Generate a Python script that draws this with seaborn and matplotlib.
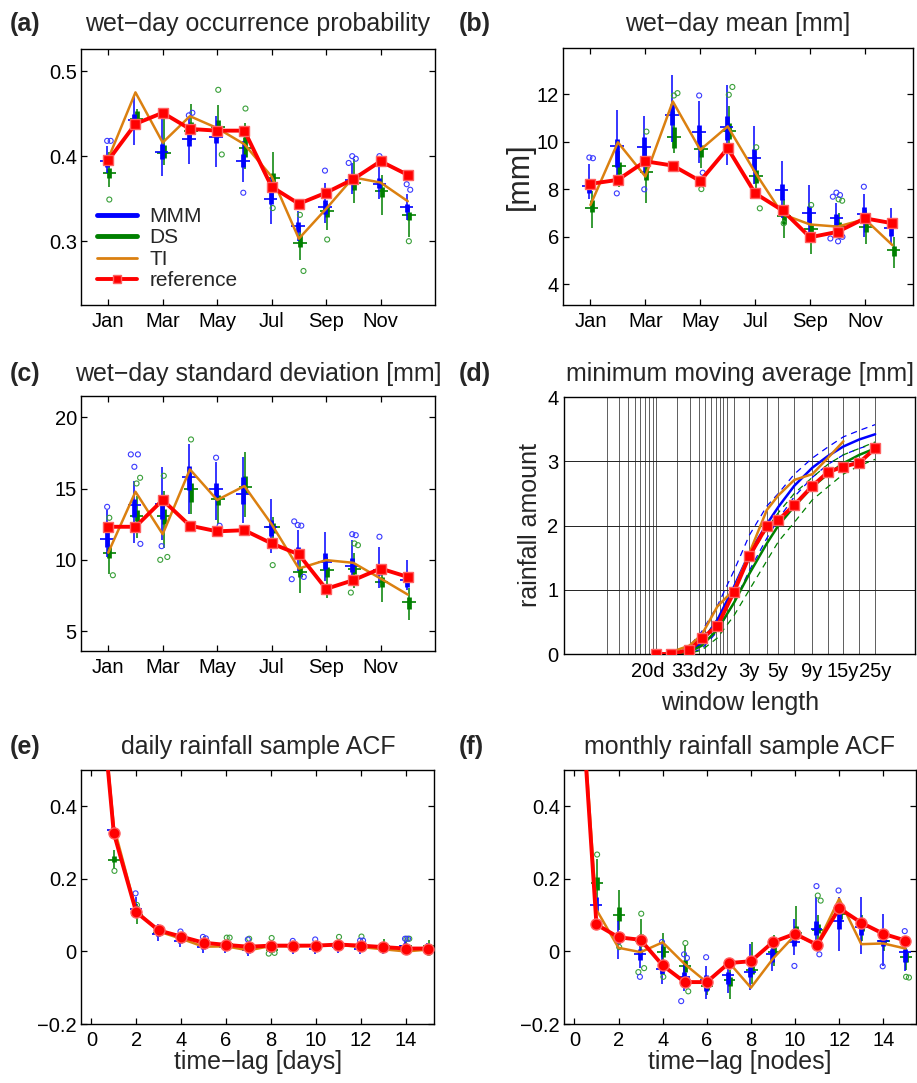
import numpy as np
import pandas as pd
import seaborn as sns
import matplotlib
matplotlib.use("Agg")
import matplotlib.pyplot as plt
from matplotlib.lines import Line2D

# ---------------- data ----------------
months = list(range(1, 13))
month_ticks = [1, 3, 5, 7, 9, 11]
month_labels = ["Jan", "Mar", "May", "Jul", "Sep", "Nov"]

# (a) wet-day occurrence probability
a_ref = [0.395, 0.438, 0.451, 0.432, 0.430, 0.430, 0.364, 0.344, 0.357, 0.373, 0.394, 0.378]
a_ti = [0.397, 0.475, 0.416, 0.447, 0.433, 0.414, 0.376, 0.303, 0.338, 0.375, 0.369, 0.347]
a_mmm_med = [0.394, 0.442, 0.405, 0.420, 0.422, 0.394, 0.350, 0.318, 0.340, 0.372, 0.367, 0.340]
a_mmm_q1 = [0.387, 0.434, 0.397, 0.412, 0.415, 0.387, 0.344, 0.311, 0.332, 0.368, 0.362, 0.334]
a_mmm_q3 = [0.400, 0.450, 0.414, 0.426, 0.430, 0.402, 0.360, 0.323, 0.348, 0.376, 0.374, 0.344]
a_mmm_lo = [0.380, 0.413, 0.377, 0.391, 0.387, 0.370, 0.320, 0.300, 0.322, 0.355, 0.350, 0.325]
a_mmm_hi = [0.412, 0.470, 0.448, 0.445, 0.447, 0.418, 0.375, 0.335, 0.369, 0.392, 0.392, 0.356]
a_mmm_out = [(1, 0.418), (1, 0.418), (4, 0.448), (4, 0.451), (6, 0.357), (9, 0.383),
             (10, 0.400), (10, 0.397), (10, 0.392), (11, 0.400), (12, 0.367), (12, 0.3605)]
a_ds_med = [0.380, 0.444, 0.404, 0.430, 0.434, 0.410, 0.374, 0.298, 0.336, 0.368, 0.359, 0.331]
a_ds_q1 = [0.374, 0.440, 0.398, 0.428, 0.430, 0.399, 0.366, 0.293, 0.329, 0.360, 0.352, 0.325]
a_ds_q3 = [0.386, 0.453, 0.413, 0.440, 0.443, 0.422, 0.380, 0.307, 0.340, 0.371, 0.364, 0.334]
a_ds_lo = [0.364, 0.435, 0.390, 0.418, 0.420, 0.385, 0.350, 0.278, 0.313, 0.345, 0.331, 0.305]
a_ds_hi = [0.405, 0.455, 0.447, 0.461, 0.460, 0.439, 0.405, 0.318, 0.345, 0.397, 0.378, 0.340]
a_ds_out = [(1, 0.349), (5, 0.478), (5, 0.402), (6, 0.456), (7, 0.339), (8, 0.331), (8, 0.265),
            (9, 0.302), (12, 0.300)]

# (b) wet-day mean [mm]
b_ref = [8.22, 8.39, 9.17, 8.99, 8.34, 9.72, 7.82, 7.10, 5.97, 6.20, 6.77, 6.56]
b_ti = [7.33, 9.97, 8.53, 11.69, 9.65, 10.64, 8.70, 6.94, 6.51, 6.42, 6.73, 5.64]
b_mmm_med = [8.13, 9.83, 9.79, 11.10, 10.40, 10.60, 9.30, 7.95, 6.98, 6.77, 6.94, 6.35]
b_mmm_q1 = [7.82, 8.95, 9.09, 10.70, 9.79, 10.07, 8.81, 7.54, 6.56, 6.39, 6.56, 6.04]
b_mmm_q3 = [8.39, 10.10, 10.20, 11.60, 10.68, 11.06, 9.69, 8.22, 7.30, 6.94, 7.26, 6.56]
b_mmm_lo = [7.60, 8.50, 8.60, 10.00, 9.10, 9.00, 8.20, 6.80, 6.00, 6.10, 6.00, 5.70]
b_mmm_hi = [9.06, 11.34, 11.09, 12.80, 11.69, 12.40, 10.64, 9.19, 8.17, 7.40, 7.80, 7.22]
b_mmm_out = [(1, 9.33), (1, 9.30), (2, 7.82), (3, 7.99), (5, 11.94), (5, 8.69),
             (10, 7.85), (10, 7.75), (10, 7.68), (10, 5.99), (10, 5.92), (10, 5.80), (11, 8.10)]
b_ds_med = [7.22, 8.98, 8.74, 10.20, 9.69, 10.45, 8.55, 6.87, 6.32, 6.46, 6.39, 5.43]
b_ds_q1 = [7.05, 8.64, 8.39, 9.72, 9.33, 10.10, 8.24, 6.53, 6.14, 6.28, 6.18, 5.18]
b_ds_q3 = [7.54, 9.16, 9.00, 10.60, 9.86, 10.80, 8.80, 7.12, 6.49, 6.63, 6.63, 5.60]
b_ds_lo = [6.37, 8.10, 7.43, 9.50, 8.90, 9.60, 7.60, 5.95, 5.25, 5.90, 5.68, 4.66]
b_ds_hi = [7.90, 9.60, 9.80, 11.30, 10.30, 11.50, 9.40, 7.60, 7.00, 7.00, 7.10, 6.00]
b_ds_out = [(3, 10.42), (4, 11.94), (4, 12.04), (5, 8.00), (6, 11.97), (6, 12.30), (7, 9.76),
            (7, 7.19), (8, 6.56), (9, 7.33), (10, 7.57), (10, 7.51)]

# (c) wet-day standard deviation [mm]
c_ref = [12.32, 12.32, 14.20, 12.40, 12.00, 12.08, 11.15, 10.38, 7.96, 8.57, 9.39, 8.80]
c_ti = [10.50, 14.78, 11.80, 16.35, 14.20, 15.18, 12.50, 9.39, 9.98, 9.79, 8.69, 7.56]
c_mmm_med = [11.43, 13.82, 13.90, 15.78, 14.94, 14.60, 12.32, 10.52, 9.86, 9.58, 9.27, 8.57]
c_mmm_q1 = [10.90, 13.00, 12.90, 14.90, 14.43, 13.90, 11.66, 10.10, 9.39, 9.16, 8.90, 8.10]
c_mmm_q3 = [11.97, 14.30, 14.43, 16.58, 15.36, 15.83, 12.80, 10.90, 10.50, 10.10, 9.70, 8.80]
c_mmm_lo = [10.20, 11.15, 11.40, 13.20, 12.80, 12.60, 10.50, 9.20, 8.50, 8.40, 8.00, 7.90]
c_mmm_hi = [13.50, 15.50, 16.53, 18.10, 16.90, 17.20, 14.30, 12.08, 11.97, 11.38, 10.90, 9.98]
c_mmm_out = [(1, 13.72), (2, 16.53), (2, 17.40), (2, 17.40), (2, 11.12), (3, 10.96), (5, 17.17),
             (5, 12.39), (8, 12.44), (8, 12.40), (8, 12.70), (8, 8.80), (8, 8.64), (10, 11.80),
             (10, 11.73), (11, 11.62)]
c_ds_med = [10.45, 13.10, 13.07, 14.94, 14.30, 15.13, 12.30, 9.16, 9.27, 9.39, 8.45, 7.05]
c_ds_q1 = [10.10, 12.70, 12.50, 14.07, 13.84, 14.66, 11.90, 8.80, 8.76, 9.00, 8.10, 6.58]
c_ds_q3 = [10.90, 13.50, 13.60, 15.36, 14.55, 15.88, 12.60, 9.50, 9.50, 9.70, 8.80, 7.40]
c_ds_lo = [9.04, 11.50, 10.80, 13.20, 12.55, 13.00, 11.00, 7.64, 7.30, 8.00, 7.05, 5.76]
c_ds_hi = [11.50, 14.50, 14.80, 16.00, 15.00, 17.60, 13.00, 10.20, 10.20, 10.50, 9.60, 8.00]
c_ds_out = [(1, 12.95), (1, 8.92), (2, 15.36), (2, 15.76), (3, 15.90), (3, 10.20), (3, 10.00),
            (4, 18.45), (7, 9.63), (10, 11.15), (10, 11.03), (10, 7.70)]

# (d) minimum moving average [mm]
d_window = [9.9, 16.3, 29.7, 44.5, 74.1, 127.8, 210.6, 371.7, 542.9, 915.6, 1648, 2727, 4537, 7650, 12780]
d_tick_pos = [7.7, 28.4, 73.3, 208.5, 537.6, 1632, 4493, 12780]
d_tick_labels = ["20d", "33d", "2y", "3y", "5y", "9y", "15y", "25y"]
d_ref = [0.0, 0.0, 0.062, 0.244, 0.436, 0.97, 1.525, 1.99, 2.085, 2.32, 2.615, 2.83, 2.915, 2.98, 3.2]
d_mmm = [np.nan, 0.0, 0.04, 0.17, 0.53, 1.05, 1.57, 2.02, 2.29, 2.62, 2.90, 3.08, 3.23, 3.34, 3.42]
d_mmm_hi = [np.nan, 0.02, 0.12, 0.35, 0.75, 1.30, 1.85, 2.30, 2.50, 2.80, 3.05, 3.22, 3.38, 3.48, 3.57]
d_mmm_lo = [np.nan, 0.0, 0.01, 0.08, 0.35, 0.80, 1.30, 1.80, 2.10, 2.45, 2.75, 2.95, 3.10, 3.20, 3.28]
d_ds = [np.nan, 0.0, 0.03, 0.13, 0.38, 0.80, 1.25, 1.72, 2.00, 2.30, 2.60, 2.80, 2.97, 3.10, 3.20]
d_ds_hi = [np.nan, 0.01, 0.07, 0.20, 0.55, 1.00, 1.50, 1.95, 2.20, 2.50, 2.75, 2.95, 3.10, 3.20, 3.30]
d_ds_lo = [np.nan, 0.0, 0.01, 0.06, 0.25, 0.60, 1.00, 1.45, 1.75, 2.05, 2.40, 2.60, 2.80, 2.93, 3.03]
d_ti = [np.nan, 0.03, 0.13, 0.30, 0.74, 1.00, 1.57, 2.24, 2.47, 2.71, 2.80, 3.05, 3.31, np.nan, np.nan]

# (e) daily rainfall sample ACF
e_lag_line = list(range(0, 17))
e_ref = [1.0, 0.3265, 0.108, 0.058, 0.041, 0.024, 0.018, 0.013, 0.016, 0.016, 0.016, 0.019, 0.016, 0.012, 0.008, 0.008, 0.002]
e_ti = [1.0, 0.345, 0.112, 0.055, 0.035, 0.013, 0.014, 0.003, 0.015, 0.014, 0.016, 0.018, 0.012, 0.006, 0.000, 0.005, 0.002]
lags = list(range(1, 16))
e_mmm_med = [0.336, 0.118, 0.048, 0.030, 0.012, 0.012, 0.003, 0.012, 0.012, 0.007, 0.012, 0.007, 0.007, 0.016, 0.007]
e_mmm_q1 = [0.328, 0.110, 0.042, 0.024, 0.006, 0.006, -0.003, 0.006, 0.006, 0.001, 0.006, 0.001, 0.001, 0.010, 0.001]
e_mmm_q3 = [0.342, 0.126, 0.054, 0.036, 0.018, 0.018, 0.009, 0.018, 0.018, 0.013, 0.018, 0.013, 0.013, 0.022, 0.013]
e_mmm_lo = [0.310, 0.100, 0.030, 0.012, -0.004, -0.004, -0.012, -0.004, -0.006, -0.008, -0.004, -0.008, -0.008, 0.000, -0.008]
e_mmm_hi = [0.345, 0.150, 0.075, 0.045, 0.028, 0.028, 0.020, 0.028, 0.028, 0.024, 0.028, 0.024, 0.024, 0.030, 0.024]
e_mmm_out = [(2, 0.160), (4, 0.055), (5, 0.040), (5, 0.036), (7, 0.033), (9, 0.029), (10, 0.033),
             (12, 0.030), (12, 0.030), (14, 0.035), (14, 0.035)]
e_ds_med = [0.253, 0.100, 0.052, 0.035, 0.030, 0.020, 0.007, 0.003, 0.012, 0.016, 0.016, 0.016, 0.016, 0.016, 0.016]
e_ds_q1 = [0.246, 0.094, 0.047, 0.030, 0.025, 0.015, 0.002, -0.002, 0.007, 0.011, 0.011, 0.011, 0.011, 0.011, 0.011]
e_ds_q3 = [0.262, 0.108, 0.057, 0.040, 0.035, 0.025, 0.012, 0.008, 0.017, 0.021, 0.021, 0.021, 0.021, 0.021, 0.021]
e_ds_lo = [0.230, 0.075, 0.040, 0.022, 0.018, 0.008, -0.005, -0.004, 0.000, 0.004, 0.004, 0.004, 0.004, 0.004, 0.004]
e_ds_hi = [0.280, 0.130, 0.065, 0.048, 0.042, 0.032, 0.020, 0.020, 0.026, 0.030, 0.030, 0.030, 0.035, 0.030, 0.032]
e_ds_out = [(1, 0.222), (2, 0.128), (6, 0.038), (6, 0.038), (7, 0.035), (8, 0.037), (8, -0.004),
            (8, -0.006), (11, 0.040), (12, 0.041), (14, 0.035), (14, 0.035), (15, -0.004)]

# (f) monthly rainfall sample ACF
f_lag_line = list(range(0, 16))
f_ref = [1.0, 0.0743, 0.039, 0.032, -0.0385, -0.0845, -0.0845, -0.032, -0.027, 0.026, 0.0486, 0.018, 0.119, 0.079, 0.0486, 0.030]
f_ti = [1.0, 0.115, 0.010, -0.002, 0.025, -0.035, -0.085, -0.030, -0.100, -0.020, 0.045, 0.020, 0.145, 0.020, 0.022, 0.008]
f_mmm_med = [0.128, 0.040, -0.006, -0.048, -0.071, -0.080, -0.066, -0.057, -0.008, 0.026, 0.062, 0.085, 0.067, 0.030, -0.002]
f_mmm_q1 = [0.109, 0.021, -0.025, -0.062, -0.085, -0.108, -0.089, -0.070, -0.030, 0.015, 0.044, 0.062, 0.044, 0.015, -0.030]
f_mmm_q3 = [0.150, 0.053, 0.007, -0.034, -0.057, -0.066, -0.057, -0.043, 0.007, 0.044, 0.085, 0.108, 0.085, 0.044, 0.007]
f_mmm_lo = [0.090, -0.020, -0.045, -0.090, -0.110, -0.130, -0.115, -0.105, -0.055, -0.010, 0.000, 0.000, -0.006, -0.040, -0.055]
f_mmm_hi = [0.160, 0.085, 0.030, 0.020, -0.030, -0.040, -0.020, 0.020, 0.040, 0.090, 0.150, 0.150, 0.150, 0.104, 0.015]
f_mmm_out = [(3, -0.070), (4, 0.026), (5, -0.008), (5, -0.018), (5, -0.137), (6, -0.016), (10, -0.040),
             (11, 0.180), (11, -0.008), (12, 0.168), (14, -0.041), (15, 0.056)]
f_ds_med = [0.188, 0.101, 0.030, -0.002, -0.041, -0.094, -0.080, -0.050, -0.002, 0.050, 0.060, 0.104, 0.067, 0.030, -0.015]
f_ds_q1 = [0.168, 0.085, 0.015, -0.015, -0.057, -0.105, -0.095, -0.062, -0.010, 0.040, 0.050, 0.090, 0.055, 0.020, -0.030]
f_ds_q3 = [0.205, 0.122, 0.048, 0.015, -0.025, -0.085, -0.070, -0.040, 0.012, 0.070, 0.075, 0.120, 0.077, 0.040, -0.002]
f_ds_lo = [0.120, 0.060, -0.010, -0.040, -0.090, -0.120, -0.130, -0.090, -0.040, 0.020, 0.030, 0.070, 0.030, 0.000, -0.050]
f_ds_hi = [0.255, 0.170, 0.090, 0.052, 0.017, -0.070, -0.050, 0.026, 0.046, 0.126, 0.100, 0.140, 0.100, 0.060, 0.010]
f_ds_out = [(1, 0.267), (2, 0.012), (3, 0.104), (3, -0.046), (3, -0.057), (4, -0.070), (5, 0.023),
            (5, -0.110), (11, 0.154), (11, 0.140), (15, -0.070), (15, -0.072)]

# ---------------- style ----------------
sns.set_theme(style="ticks")
plt.rcParams["font.family"] = ["Liberation Sans", "DejaVu Sans"]
plt.rcParams.update({
    "xtick.direction": "in", "ytick.direction": "in",
    "xtick.top": True, "ytick.right": True,
    "xtick.major.size": 4, "ytick.major.size": 4,
    "xtick.major.width": 0.9, "ytick.major.width": 0.9,
    "xtick.minor.size": 0, "ytick.minor.size": 0,
    "axes.linewidth": 1.0, "axes.edgecolor": "black",
    "xtick.color": "black", "ytick.color": "black",
    "xtick.labelsize": 14.5, "ytick.labelsize": 14.5,
    "xtick.major.pad": 5, "ytick.major.pad": 3,
    "axes.unicode_minus": True,
})

BLUE = "#0000ff"
GREEN = "#008000"
ORANGE = "#db8010"
RED = "#ff0000"
BLUE_O = "#3a3aff"
GREEN_O = "#3aa03a"

W, H = 917, 1083
fig = plt.figure(figsize=(W / 100, H / 100), dpi=100)


def add_ax(l, t, r, b):
    return fig.add_axes([l / W, 1 - b / H, (r - l) / W, (b - t) / H])


def draw_boxes(ax, pos, lo, q1, med, q3, hi, color, hw=0.25, dx=0.0):
    p = np.asarray(pos, dtype=float) + dx
    ax.vlines(p, lo, hi, color=color, lw=1.1, zorder=2)
    ax.vlines(p, q1, q3, color=color, lw=3.4, zorder=2)
    ax.hlines(med, p - hw, p + hw, color=color, lw=1.2, zorder=2)


def draw_out(ax, pts, color, dx=0.0):
    jit = [0.0, 0.13, -0.13, 0.22, -0.22, 0.06, -0.06]
    seen = {}
    xs, ys = [], []
    for p, v in pts:
        k = seen.get(p, 0)
        seen[p] = k + 1
        xs.append(p + dx + jit[k % len(jit)])
        ys.append(v)
    ax.scatter(xs, ys, s=13, facecolors="none", edgecolors=color, linewidths=0.8, zorder=3)


def ref_line(ax, x, y, marker):
    sns.lineplot(x=x, y=y, ax=ax, color=RED, lw=2.8, marker=marker, markersize=7 if marker == "s" else 8,
                 markerfacecolor=RED, markeredgecolor="#ff6060", markeredgewidth=1.0,
                 sort=False, estimator=None, legend=False, zorder=5)


def ti_line(ax, x, y):
    sns.lineplot(x=x, y=y, ax=ax, color=ORANGE, lw=1.8, sort=False, estimator=None, legend=False, zorder=4)


def month_panel(ax, ref, ti, mmm, ds, mmm_out, ds_out, ylim, yticks, yfmt):
    draw_boxes(ax, months, *ds, GREEN, dx=0.04)
    draw_boxes(ax, months, *mmm, BLUE, dx=-0.04)
    draw_out(ax, ds_out, GREEN_O, dx=0.04)
    draw_out(ax, mmm_out, BLUE_O, dx=-0.04)
    ti_line(ax, months, ti)
    ref_line(ax, months, ref, "s")
    ax.set_xlim(0, 13)
    ax.set_ylim(*ylim)
    ax.set_xticks(month_ticks)
    ax.set_xticklabels(month_labels)
    ax.set_yticks(yticks)
    ax.set_yticklabels([yfmt.format(v) for v in yticks])
    ax.set_xlabel("")
    ax.set_ylabel("")


TITLE_FS = 18

# (a)
ax_a = add_ax(81, 49, 435, 305)
month_panel(ax_a, a_ref, a_ti,
            (a_mmm_lo, a_mmm_q1, a_mmm_med, a_mmm_q3, a_mmm_hi),
            (a_ds_lo, a_ds_q1, a_ds_med, a_ds_q3, a_ds_hi),
            a_mmm_out, a_ds_out, (0.225, 0.526), [0.3, 0.4, 0.5], "{:.1f}")
handles = [Line2D([], [], color=BLUE, lw=3.5), Line2D([], [], color=GREEN, lw=3.5),
           Line2D([], [], color=ORANGE, lw=2.0),
           Line2D([], [], color=RED, lw=2.8, marker="s", markersize=6, markeredgecolor="#ff6060")]
ax_a.legend(handles, ["MMM", "DS", "TI", "reference"], loc="lower left", bbox_to_anchor=(0.005, 0.0),
            frameon=False, fontsize=15, handlelength=1.9, handletextpad=0.6, labelspacing=0.12,
            borderaxespad=0.3)

# (b)
ax_b = add_ax(563, 48, 913, 305)
month_panel(ax_b, b_ref, b_ti,
            (b_mmm_lo, b_mmm_q1, b_mmm_med, b_mmm_q3, b_mmm_hi),
            (b_ds_lo, b_ds_q1, b_ds_med, b_ds_q3, b_ds_hi),
            b_mmm_out, b_ds_out, (3.12, 13.94), [4, 6, 8, 10, 12], "{:d}")
ax_b.set_xlim(0, 12.75)

# (c)
ax_c = add_ax(81, 396, 435, 651)
month_panel(ax_c, c_ref, c_ti,
            (c_mmm_lo, c_mmm_q1, c_mmm_med, c_mmm_q3, c_mmm_hi),
            (c_ds_lo, c_ds_q1, c_ds_med, c_ds_q3, c_ds_hi),
            c_mmm_out, c_ds_out, (3.6, 21.5), [5, 10, 15, 20], "{:d}")

# (d)
ax_d = add_ax(564, 397, 915, 654)
ax_d.set_xscale("log")
ax_d.set_xlim(0.495, 47000)
ax_d.set_ylim(0, 4)
grid_x = [m * 10.0 ** k for k in range(0, 2) for m in range(2, 11)]
for g in grid_x:
    ax_d.axvline(g, color="#444444", lw=0.6, zorder=0)
for g in d_window[5:]:
    ax_d.axvline(g, color="#444444", lw=0.6, zorder=0)
for gy in [1, 2, 3]:
    ax_d.axhline(gy, color="#222222", lw=0.7, zorder=0)
dw = np.asarray(d_window, dtype=float)
for yv, col, ls, lw in [(d_mmm_hi, BLUE, (0, (5, 4)), 0.9), (d_mmm_lo, BLUE, (0, (5, 4)), 0.9),
                        (d_ds_hi, GREEN, (0, (5, 4)), 0.9), (d_ds_lo, GREEN, (0, (5, 4)), 0.9),
                        (d_mmm, BLUE, "-", 1.8), (d_ds, GREEN, "-", 1.8)]:
    sns.lineplot(x=dw, y=yv, ax=ax_d, color=col, lw=lw, linestyle=ls, sort=False, estimator=None,
                 legend=False, zorder=3)
ti_line(ax_d, dw, d_ti)
ref_line(ax_d, dw, d_ref, "s")
ax_d.minorticks_off()
ax_d.set_xticks(d_tick_pos)
ax_d.set_xticklabels(d_tick_labels)
ax_d.tick_params(axis="x", which="both", top=False, bottom=False, pad=6)
ax_d.tick_params(axis="y", which="both", left=False, right=False, pad=4)
ax_d.set_yticks([0, 1, 2, 3, 4])
ax_d.set_yticklabels(["0", "1", "2", "3", "4"])
ax_d.set_xlabel("")
ax_d.set_ylabel("")

# (e) and (f)
def acf_panel(ax, lag_line, ref, ti, mmm, ds, mmm_out, ds_out, xlim):
    draw_boxes(ax, lags, *ds, GREEN, hw=0.27, dx=0.03)
    draw_boxes(ax, lags, *mmm, BLUE, hw=0.27, dx=-0.03)
    draw_out(ax, ds_out, GREEN_O, dx=0.03)
    draw_out(ax, mmm_out, BLUE_O, dx=-0.03)
    ti_line(ax, lag_line, ti)
    ref_line(ax, lag_line, ref, "o")
    ax.set_xlim(*xlim)
    ax.set_ylim(-0.2, 0.5)
    ax.set_xticks(list(range(0, 15, 2)))
    ax.set_xticklabels([str(v) for v in range(0, 15, 2)])
    ax.set_yticks([-0.2, 0.0, 0.2, 0.4])
    ax.set_yticklabels(["\u22120.2", "0", "0.2", "0.4"])
    ax.set_xlabel("")
    ax.set_ylabel("")


ax_e = add_ax(81, 770, 434, 1024)
acf_panel(ax_e, e_lag_line, e_ref, e_ti,
          (e_mmm_lo, e_mmm_q1, e_mmm_med, e_mmm_q3, e_mmm_hi),
          (e_ds_lo, e_ds_q1, e_ds_med, e_ds_q3, e_ds_hi),
          e_mmm_out, e_ds_out, (-0.46, 15.26))
ax_f = add_ax(564, 770, 916, 1024)
acf_panel(ax_f, f_lag_line, f_ref, f_ti,
          (f_mmm_lo, f_mmm_q1, f_mmm_med, f_mmm_q3, f_mmm_hi),
          (f_ds_lo, f_ds_q1, f_ds_med, f_ds_q3, f_ds_hi),
          f_mmm_out, f_ds_out, (-0.47, 15.48))

# ---------------- titles and labels ----------------
def ftext(x, y, s, **kw):
    fig.text(x / W, 1 - y / H, s, **kw)

for (lx, ly, lab, tx, title) in [
    (10, 24, "(a)", 258, "wet\u2212day occurrence probability"),
    (459, 24, "(b)", 738, "wet\u2212day mean [mm]"),
    (10, 374, "(c)", 258, "wet\u2212day standard deviation [mm]"),
    (459, 374, "(d)", 740, "minimum moving average [mm]"),
    (10, 747, "(e)", 258, "daily rainfall sample ACF"),
    (459, 747, "(f)", 740, "monthly rainfall sample ACF"),
]:
    ftext(lx, ly, lab, ha="left", va="center", fontsize=TITLE_FS, fontweight="bold")
    ftext(tx, ly, title, ha="center", va="center", fontsize=TITLE_FS)

ftext(520, 176, "[mm]", ha="center", va="center", rotation=90, fontsize=22)
ftext(530, 525, "rainfall amount", ha="center", va="center", rotation=90, fontsize=18)
ftext(740, 703, "window length", ha="center", va="center", fontsize=18)
ftext(258, 1062, "time\u2212lag [days]", ha="center", va="center", fontsize=18)
ftext(740, 1062, "time\u2212lag [nodes]", ha="center", va="center", fontsize=18)

fig.savefig("out.png", dpi=100)
